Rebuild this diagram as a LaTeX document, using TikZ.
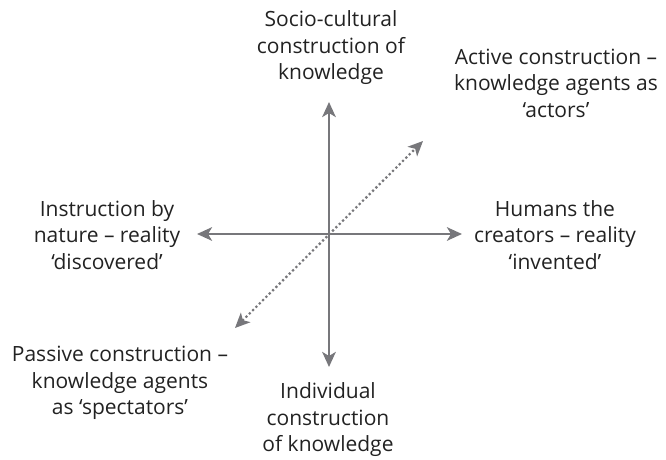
\documentclass[tikz,border=0pt]{standalone}
\usepackage{fontspec}
\setmainfont{Open Sans}
\usepackage{xcolor}
\usetikzlibrary{positioning, arrows.meta}
\definecolor{axisgrey}{HTML}{77777B}
\definecolor{textgrey}{HTML}{222222}
\begin{document}
\begin{tikzpicture}[x=1pt, y=1pt,
    label_text/.style={align=center, text=textgrey, font=\fontsize{21}{26.5}\selectfont, inner sep=0pt},
    axis/.style={draw=axisgrey, line width=2.6pt, {Stealth[length=15pt,width=13.5pt,inset=4pt]}-{Stealth[length=15pt,width=13.5pt,inset=4pt]}},
    dotted_axis/.style={axis, line width=2.2pt, dash pattern=on 2.2pt off 2.5pt}]
    \useasboundingbox (-329,-226) rectangle (337,234);
    \coordinate (centre) at (0,0);
    \path (centre) ++ (0,132) coordinate (up_end);
    \path (centre) ++ (0,-133) coordinate (down_end);
    \path (centre) ++ (-132,0) coordinate (left_end);
    \path (centre) ++ (133,0) coordinate (right_end);
    \path (centre) ++ (94,93) coordinate (active_end);
    \path (centre) ++ (-94,-94) coordinate (passive_end);
    \path (centre) ++ (2,186) node [label_text] (social) {Socio-cultural\\construction of\\knowledge};
    \path (centre) ++ (227,151) node [label_text] (active) {Active construction --\\knowledge agents as\\`actors'};
    \path (centre) ++ (-222,-1) node [label_text] (nature) {Instruction by\\nature -- reality\\`discovered'};
    \path (centre) ++ (226,-1) node [label_text] (humans) {Humans the\\creators -- reality\\`invented'};
    \path (centre) ++ (-1,-186) node [label_text] (individual) {Individual\\construction\\of knowledge};
    \path (centre) ++ (-209,-149) node [label_text] (passive) {Passive construction --\\knowledge agents\\as `spectators'};
    \draw [dotted_axis] (passive_end) -- (active_end);
    \draw [axis] (left_end) -- (right_end);
    \draw [axis] (down_end) -- (up_end);
  \end{tikzpicture}
\end{document}
